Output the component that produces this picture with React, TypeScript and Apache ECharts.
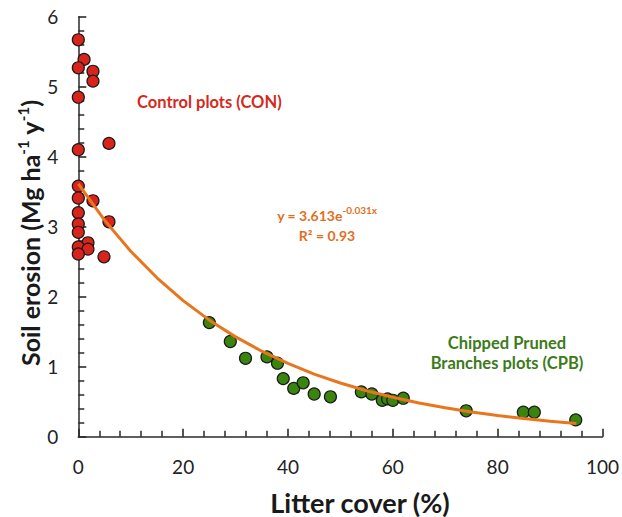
import React, { useEffect, useRef } from "react";
import * as echarts from "echarts";

// Control plots (CON): [litter cover %, soil erosion]
const conX = [0, 1.1, 0, 2.8, 2.8, 0, 5.85, 0, 0, 0, 2.8, 0, 5.85, 0, 0, 1.85, 0, 1.85, 0, 4.9];
const conY = [5.67, 5.39, 5.27, 5.22, 5.08, 4.85, 4.19, 4.1, 3.58, 3.41, 3.37, 3.2, 3.07, 3.04, 2.92, 2.77, 2.71, 2.68, 2.61, 2.57];

// Chipped Pruned Branches plots (CPB)
const cpbX = [25, 29, 31.9, 36, 38, 39.1, 41.1, 42.9, 45, 48.1, 54, 56, 58, 59, 60, 62, 74, 84.9, 87, 94.9];
const cpbY = [1.63, 1.36, 1.12, 1.14, 1.05, 0.83, 0.69, 0.77, 0.61, 0.57, 0.64, 0.61, 0.52, 0.54, 0.52, 0.55, 0.37, 0.35, 0.35, 0.24];

// Exponential trendline points (y = 3.613e^-0.031x)
const fitX = [0, 5, 10, 15, 20, 25, 30, 35, 40, 45, 50, 55, 60, 65, 70, 75, 80, 85, 90, 95];
const fitY = [3.613, 3.094, 2.65, 2.27, 1.944, 1.665, 1.426, 1.221, 1.046, 0.895, 0.767, 0.657, 0.563, 0.482, 0.413, 0.353, 0.302, 0.259, 0.222, 0.19];

const xTicks = [0, 20, 40, 60, 80, 100];
const yTicks = [0, 1, 2, 3, 4, 5, 6];

const FONT = "Lato";

export default function App() {
  const ref = useRef<HTMLDivElement>(null);
  useEffect(() => {
    if (!ref.current) return;
    const chart = echarts.init(ref.current, null, { renderer: "svg" });
    const axisLine = { show: true, lineStyle: { color: "#2a2a2a", width: 1.5 } };
    const axisTick = { show: true, inside: true, length: 8, lineStyle: { color: "#2a2a2a", width: 1.6 } };
    const minorTick = { show: true, splitNumber: 5, length: 6, lineStyle: { color: "#2a2a2a", width: 1.5 } };
    const labelStyle = { color: "#222", fontSize: 19, fontFamily: FONT, margin: 20 };
    chart.setOption({
      animation: false,
      backgroundColor: "#fff",
      grid: { left: 78.3, right: 18.7, top: 16.7, bottom: 80.3 },
      xAxis: {
        type: "value",
        min: xTicks[0],
        max: xTicks[xTicks.length - 1],
        interval: 20,
        axisLine,
        axisTick,
        minorTick,
        splitLine: { show: false },
        axisLabel: labelStyle,
      },
      yAxis: {
        type: "value",
        min: yTicks[0],
        max: yTicks[yTicks.length - 1],
        interval: 1,
        axisLine,
        axisTick,
        minorTick,
        splitLine: { show: false },
        axisLabel: labelStyle,
      },
      graphic: [
        {
          type: "text",
          x: 360,
          y: 502,
          style: {
            text: "Litter cover (%)",
            align: "center",
            verticalAlign: "middle",
            fontSize: 27,
            fontWeight: "bold",
            fontFamily: FONT,
            fill: "#1a1a1a",
          },
        },
        {
          type: "text",
          x: 30,
          y: 233,
          rotation: Math.PI / 2,
          style: {
            text: "{b|Soil erosion (Mg ha}{s|-1}{b| y}{s|-1}{b|)}",
            align: "center",
            verticalAlign: "middle",
            rich: {
              b: { fontSize: 25, fontWeight: "bold", fontFamily: FONT, fill: "#1a1a1a", lineHeight: 29 },
              s: { fontSize: 15, fontWeight: "bold", fontFamily: FONT, fill: "#1a1a1a", verticalAlign: "top", lineHeight: 29 },
            },
          },
        },
        {
          type: "text",
          x: 137,
          y: 102,
          style: {
            text: "Control plots (CON)",
            align: "left",
            verticalAlign: "middle",
            fontSize: 16.5,
            fontWeight: "bold",
            fontFamily: FONT,
            fill: "#d42a1e",
          },
        },
        {
          type: "text",
          x: 507,
          y: 353,
          style: {
            text: "Chipped Pruned\nBranches plots (CPB)",
            align: "center",
            verticalAlign: "middle",
            fontSize: 16.5,
            lineHeight: 20,
            fontWeight: "bold",
            fontFamily: FONT,
            fill: "#3c7a1a",
          },
        },
        {
          type: "text",
          x: 327,
          y: 225,
          style: {
            text: "{b|y = 3.613e}{s|-0.031x}\n{b|R² = 0.93}",
            align: "center",
            verticalAlign: "middle",
            rich: {
              b: { fontSize: 14, fontWeight: "bold", fontFamily: FONT, fill: "#e0701e", lineHeight: 20 },
              s: { fontSize: 10, fontWeight: "bold", fontFamily: FONT, fill: "#e0701e", verticalAlign: "top", lineHeight: 20 },
            },
          },
        },
      ],
      series: [
        {
          type: "scatter",
          name: "CON",
          data: conX.map((x, i) => [x, conY[i]]),
          symbol: "circle",
          symbolSize: 12,
          itemStyle: { color: "#d8241a", borderColor: "#1a1a1a", borderWidth: 1.2, opacity: 1 },
          z: 2,
        },
        {
          type: "scatter",
          name: "CPB",
          data: cpbX.map((x, i) => [x, cpbY[i]]),
          symbol: "circle",
          symbolSize: 12,
          itemStyle: { color: "#3a850e", borderColor: "#1a1a1a", borderWidth: 1.2, opacity: 1 },
          z: 2,
        },
        {
          type: "line",
          name: "fit",
          data: fitX.map((x, i) => [x, fitY[i]]),
          showSymbol: false,
          smooth: false,
          lineStyle: { color: "#e8761e", width: 3 },
          z: 3,
        },
      ],
    });
    return () => chart.dispose();
  }, []);
  return <div ref={ref} style={{ width: 622, height: 517, position: "absolute", left: 0, top: 0 }} />;
}
